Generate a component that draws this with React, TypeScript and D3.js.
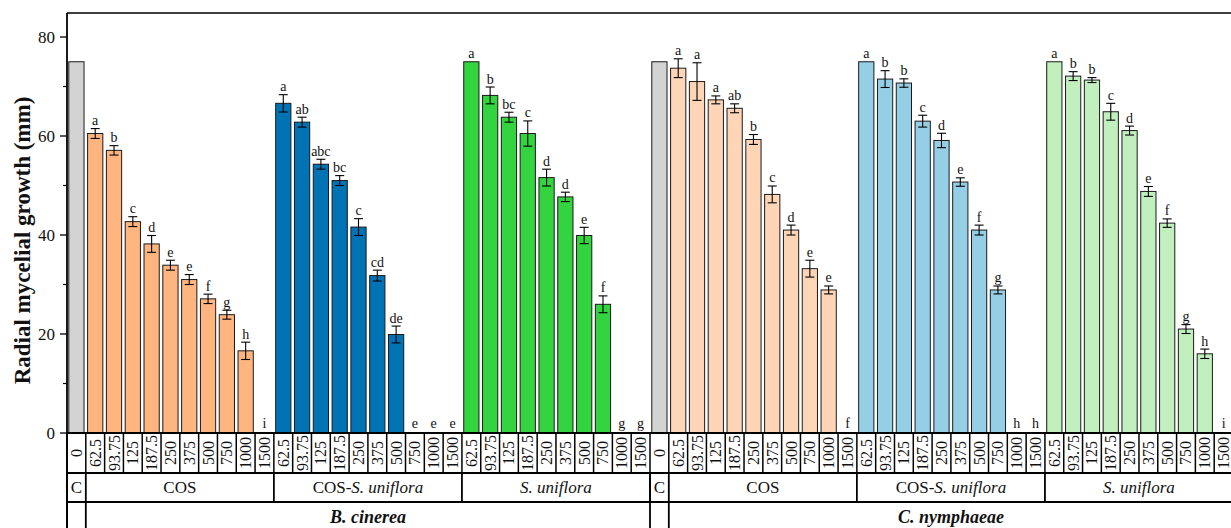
import * as d3 from "d3";

// doses (µg/mL) shared by every treatment group
const doses = ["62.5", "93.75", "125", "187.5", "250", "375", "500", "750", "1000", "1500"];
const pathogens = ["B. cinerea", "C. nymphaeae"];
const treatments = ["COS", "COS-S. uniflora", "S. uniflora"];
const controlValue = 75;

// B. cinerea
const bcCosMean = [60.5, 57.1, 42.7, 38.2, 33.9, 31.0, 27.1, 23.9, 16.6, 0];
const bcCosErr = [1.0, 0.95, 1.0, 1.7, 1.0, 1.0, 0.95, 0.9, 1.75, 0];
const bcCosLetters = ["a", "b", "c", "d", "e", "e", "f", "g", "h", "i"];
const bcMixMean = [66.6, 62.8, 54.3, 51.0, 41.6, 31.8, 19.9, 0, 0, 0];
const bcMixErr = [1.75, 1.0, 1.0, 1.0, 1.7, 1.1, 1.7, 0, 0, 0];
const bcMixLetters = ["a", "ab", "abc", "bc", "c", "cd", "de", "e", "e", "e"];
const bcSuMean = [75, 68.2, 63.8, 60.5, 51.6, 47.7, 39.9, 26.0, 0, 0];
const bcSuErr = [0, 1.7, 1.0, 2.55, 1.7, 0.95, 1.65, 1.7, 0, 0];
const bcSuLetters = ["a", "b", "bc", "c", "d", "d", "e", "f", "g", "g"];

// C. nymphaeae
const cnCosMean = [73.7, 71.0, 67.3, 65.6, 59.3, 48.2, 41.0, 33.2, 28.9, 0];
const cnCosErr = [1.9, 3.8, 0.8, 0.9, 1.0, 1.7, 1.0, 1.7, 0.8, 0];
const cnCosLetters = ["a", "a", "a", "ab", "b", "c", "d", "e", "e", "f"];
const cnMixMean = [75, 71.5, 70.7, 63.0, 59.1, 50.7, 41.0, 28.9, 0, 0];
const cnMixErr = [0, 1.7, 0.85, 1.2, 1.45, 0.85, 1.0, 0.8, 0, 0];
const cnMixLetters = ["a", "b", "b", "c", "d", "e", "f", "g", "h", "h"];
const cnSuMean = [75, 72.1, 71.3, 64.9, 61.1, 48.8, 42.4, 21.0, 16.0, 0];
const cnSuErr = [0, 0.9, 0.5, 1.7, 0.9, 1.0, 0.85, 0.9, 0.95, 0];
const cnSuLetters = ["a", "b", "b", "c", "d", "e", "f", "g", "h", "i"];

const controlColor = "#d3d3d3";
const groupColors = [
  ["#ffb57f", "#0073b5", "#33d43f"],
  ["#ffd5b8", "#95cfe6", "#c1f0be"],
];
const yTicks = [0, 20, 40, 60, 80];
const yMinorTicks = [10, 30, 50, 70];

type Bar = { key: string; label: string; value: number; err: number; letter: string; color: string };

const groupData = [
  [
    [bcCosMean, bcCosErr, bcCosLetters],
    [bcMixMean, bcMixErr, bcMixLetters],
    [bcSuMean, bcSuErr, bcSuLetters],
  ],
  [
    [cnCosMean, cnCosErr, cnCosLetters],
    [cnMixMean, cnMixErr, cnMixLetters],
    [cnSuMean, cnSuErr, cnSuLetters],
  ],
] as [number[], number[], string[]][][];

const bars: Bar[] = [];
pathogens.forEach((p, pi) => {
  bars.push({ key: `${pi}-C`, label: "0", value: controlValue, err: 0, letter: "", color: controlColor });
  groupData[pi].forEach(([mean, err, letters], ti) => {
    doses.forEach((d, di) => {
      bars.push({
        key: `${pi}-${ti}-${di}`,
        label: d,
        value: mean[di],
        err: err[di],
        letter: letters[di],
        color: groupColors[pi][ti],
      });
    });
  });
});

const W = 1231;
const H = 528;
const left = 67;
const right = 1233;
const top = 13;
const base = 433;
const row1 = 473;
const row2 = 502;
const serif = "'Liberation Serif', 'Times New Roman', serif";

const x = d3
  .scaleBand<string>()
  .domain(bars.map((b) => b.key))
  .range([left, right])
  .paddingInner(0.19)
  .paddingOuter(0.095);
const y = d3.scaleLinear().domain([0, 84.85]).range([base, top]);
const step = x.step();
const slotLeft = (i: number) => left + i * step;

export default function App() {
  const perPathogen = 1 + treatments.length * doses.length;
  return (
    <div style={{ position: "fixed", left: 0, top: 0 }}>
      <svg width={W} height={H} style={{ display: "block", background: "#fff" }} fontFamily={serif}>
        {/* bars */}
        {bars.map((b) => (
          <rect
            key={b.key}
            x={x(b.key)}
            y={y(b.value)}
            width={x.bandwidth()}
            height={base - y(b.value)}
            fill={b.color}
            stroke="#1a1a1a"
            strokeWidth={1}
          />
        ))}
        {/* error bars */}
        {bars
          .filter((b) => b.err > 0)
          .map((b) => {
            const cx = x(b.key)! + x.bandwidth() / 2;
            return (
              <g key={b.key + "e"} stroke="#000" strokeWidth={1.1}>
                <line x1={cx} x2={cx} y1={y(b.value + b.err)} y2={y(b.value - b.err)} />
                <line x1={cx - 4.5} x2={cx + 4.5} y1={y(b.value + b.err)} y2={y(b.value + b.err)} />
                <line x1={cx - 4.5} x2={cx + 4.5} y1={y(b.value - b.err)} y2={y(b.value - b.err)} />
              </g>
            );
          })}
        {/* significance letters */}
        {bars
          .filter((b) => b.letter)
          .map((b) => (
            <text
              key={b.key + "l"}
              x={x(b.key)! + x.bandwidth() / 2}
              y={y(b.value + b.err) - (b.value === 0 ? 5 : 3.5)}
              textAnchor="middle"
              fontSize={14}
              fill="#111"
            >
              {b.letter}
            </text>
          ))}

        {/* frame and axis */}
        <line x1={left} x2={right} y1={top} y2={top} stroke="#000" strokeWidth={1.5} />
        <line x1={left} x2={left} y1={top} y2={H} stroke="#000" strokeWidth={1.8} />
        <line x1={right} x2={right} y1={top} y2={H} stroke="#000" strokeWidth={1.5} />
        {yTicks.map((t) => (
          <g key={t}>
            <line x1={left - 7} x2={left} y1={y(t)} y2={y(t)} stroke="#000" strokeWidth={1.3} />
            <text x={left - 12} y={y(t)} dy="0.35em" textAnchor="end" fontSize={17} fill="#111">
              {t}
            </text>
          </g>
        ))}
        {yMinorTicks.map((t) => (
          <line key={t} x1={left - 4} x2={left} y1={y(t)} y2={y(t)} stroke="#000" strokeWidth={1.2} />
        ))}
        <text
          transform={`translate(22,${(88 + 393) / 2}) rotate(-90)`}
          textAnchor="middle"
          dominantBaseline="central"
          fontSize={23}
          fontWeight="bold"
          fill="#111"
        >
          Radial mycelial growth (mm)
        </text>

        {/* table */}
        <g stroke="#000" strokeWidth={1.8}>
          <line x1={left} x2={right} y1={base} y2={base} strokeWidth={2} />
          <line x1={left} x2={right} y1={row1} y2={row1} />
          <line x1={left} x2={right} y1={row2} y2={row2} />
          {d3.range(bars.length + 1).map((i) => (
            <line key={i} x1={slotLeft(i)} x2={slotLeft(i)} y1={base} y2={row1} strokeWidth={1.5} />
          ))}
          {pathogens.map((p, pi) => {
            const s = pi * perPathogen;
            return (
              <g key={p}>
                <line x1={slotLeft(s)} x2={slotLeft(s)} y1={row1} y2={H} />
                <line x1={slotLeft(s + 1)} x2={slotLeft(s + 1)} y1={row1} y2={H} />
                {treatments.map((t, ti) => {
                  const xe = slotLeft(s + 1 + (ti + 1) * doses.length);
                  return <line key={t} x1={xe} x2={xe} y1={row1} y2={row2} />;
                })}
              </g>
            );
          })}
        </g>
        {bars.map((b, i) => (
          <text
            key={b.key + "t"}
            transform={`translate(${slotLeft(i) + step / 2},${(base + row1) / 2}) rotate(-90)`}
            textAnchor="middle"
            dominantBaseline="central"
            fontSize={16}
            fill="#111"
          >
            {b.label}
          </text>
        ))}
        {pathogens.map((p, pi) => {
          const s = pi * perPathogen;
          return (
            <g key={p + "t"} fill="#111">
              <text x={slotLeft(s) + step / 2} y={(row1 + row2) / 2} dy="0.35em" textAnchor="middle" fontSize={17}>
                C
              </text>
              {treatments.map((t, ti) => {
                const x0 = slotLeft(s + 1 + ti * doses.length);
                const cx = x0 + (doses.length * step) / 2;
                let content: any = t;
                if (t === "COS-S. uniflora") content = <>COS-<tspan fontStyle="italic">S. uniflora</tspan></>;
                if (t === "S. uniflora") content = <tspan fontStyle="italic">S. uniflora</tspan>;
                return (
                  <text key={t} x={cx} y={(row1 + row2) / 2} dy="0.35em" textAnchor="middle" fontSize={17}>
                    {content}
                  </text>
                );
              })}
              <text
                x={(slotLeft(s + 1) + slotLeft(s + perPathogen)) / 2}
                y={523}
                textAnchor="middle"
                fontSize={18}
                fontWeight="bold"
                fontStyle="italic"
              >
                {p}
              </text>
            </g>
          );
        })}
      </svg>
    </div>
  );
}
